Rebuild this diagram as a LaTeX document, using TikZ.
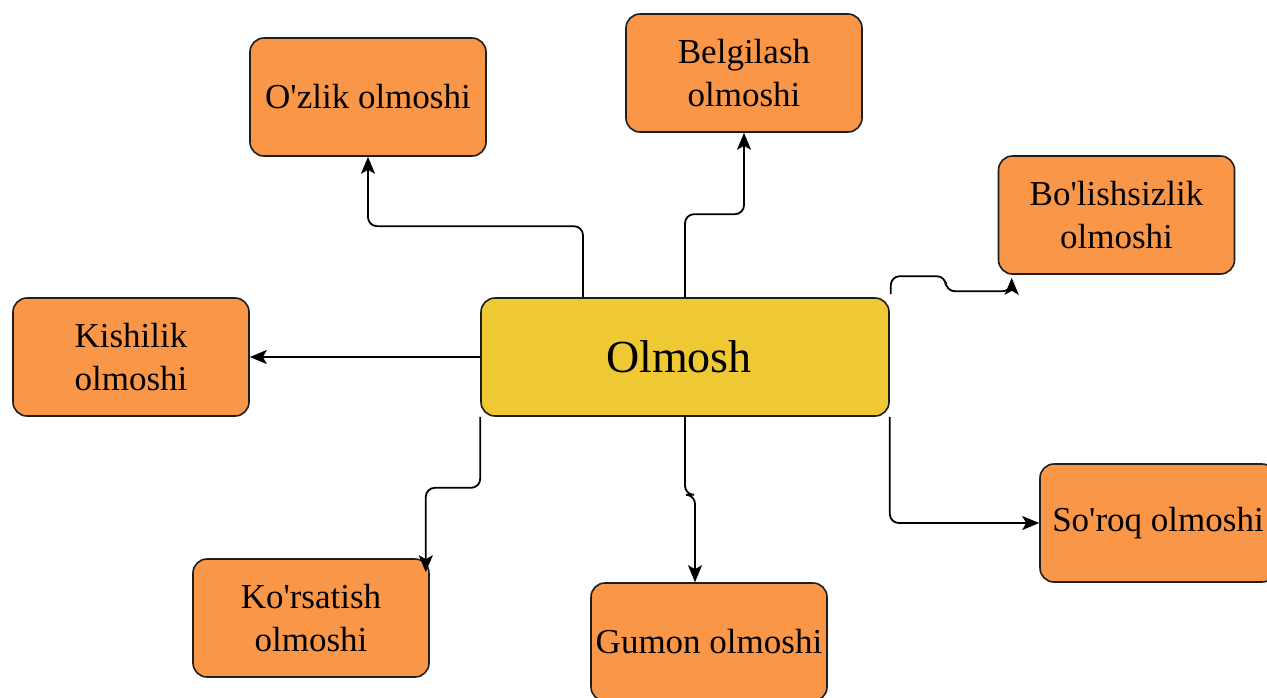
\documentclass[tikz,border=0pt]{standalone}
\usepackage{fontspec}
\newfontfamily\lib{Liberation Serif}
\usetikzlibrary{arrows.meta}
\definecolor{boxorange}{RGB}{249,150,72}
\definecolor{boxyellow}{RGB}{239,201,52}
\definecolor{edgegray}{RGB}{30,30,30}
\begin{document}
\begin{tikzpicture}[x=1pt,y=-1pt,
  leaf/.style={draw=edgegray, line width=1.6pt, fill=boxorange, rounded corners=14pt,
    minimum width=236pt, minimum height=118pt, inner sep=0pt, align=center,
    font=\lib\fontsize{35}{43}\selectfont},
  hub/.style={draw=edgegray, line width=1.6pt, fill=boxyellow, rounded corners=14pt,
    minimum width=408pt, minimum height=118pt, inner sep=0pt, align=center,
    font=\lib\fontsize{46}{50}\selectfont},
  arr/.style={draw=black, line width=1.8pt, rounded corners=9pt,
    -{Stealth[length=17pt,width=14pt,inset=4pt,sharp]}}
]
\useasboundingbox (0,0) rectangle (1267,697);
\clip (0,0) rectangle (1267,697);

\node[hub]  (olmosh) at (685,357) {\hspace*{-12pt}Olmosh};
\node[leaf] (ozlik)  at (368,97)  {O'zlik olmoshi};
\node[leaf] (belg)   at (744,73)  {Belgilash\\olmoshi};
\node[leaf] (bol)    at (1116.5,215) {Bo'lishsizlik\\olmoshi};
\node[leaf] (kish)   at (131,357) {Kishilik\\olmoshi};
\node[leaf] (kors)   at (311,618) {Ko'rsatish\\olmoshi};
\node[leaf] (gumon)  at (709,642) {Gumon olmoshi};
\node[leaf] (soroq)  at (1158,523) {So'roq olmoshi};

\coordinate (bolend) at ([xshift=14pt,yshift=-3pt]bol.south west);
\coordinate (korsend) at ([xshift=-4pt,yshift=-14pt]kors.north east);

\draw[arr] ([xshift=-102pt]olmosh.north) -- ++(0,-71) -| (ozlik.south);
\draw[arr] (olmosh.north) -- ++(0,-83) -| (belg.south);
\draw[arr] ([xshift=1pt,yshift=3pt]olmosh.north east) -- ++(0,-18) -- ++(55,0) -- ++(0,15) -| (bolend);
\draw[arr] (olmosh.west) -- (kish.east);
\draw[arr] (olmosh.south west) -- ++(0,71) -| (korsend);
\draw[arr] (olmosh.south) -- ++(0,78) -| ([xshift=-14pt]gumon.north);
\draw[arr] (olmosh.south east) |- (soroq.west);
\end{tikzpicture}
\end{document}
